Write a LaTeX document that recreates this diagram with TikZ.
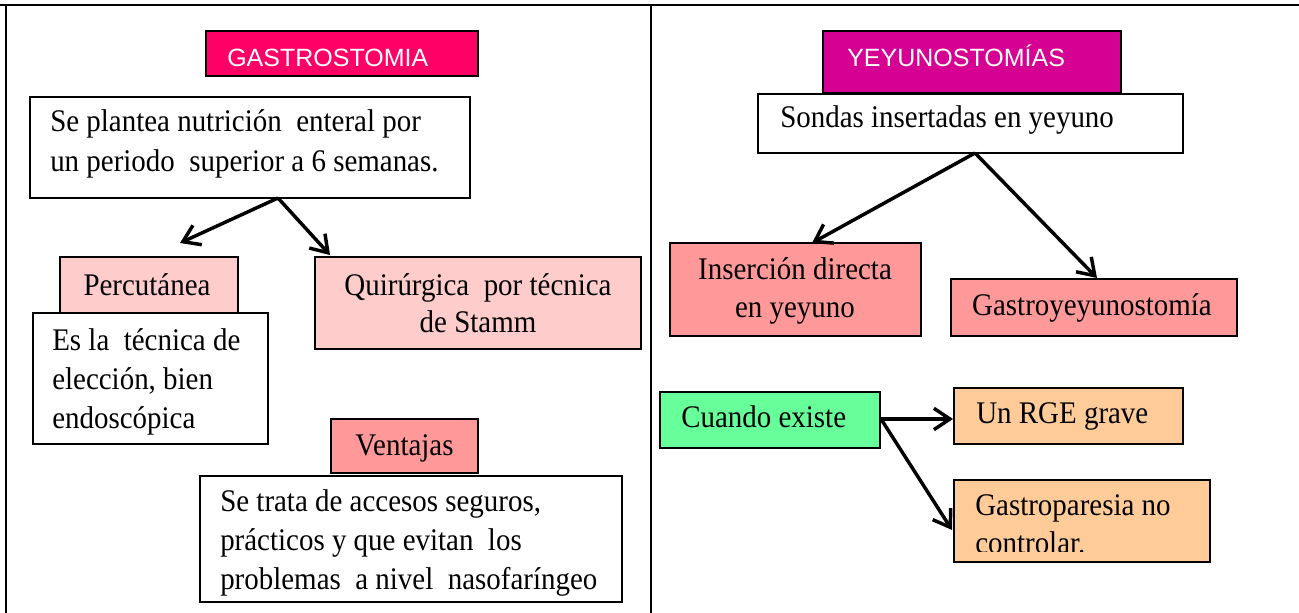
\documentclass[tikz,border=0pt]{standalone}
\usepackage{fontspec}
\setmainfont[FakeStretch=0.92]{Liberation Serif}
\newfontfamily\arialf{Liberation Sans}
\usetikzlibrary{arrows.meta}
\definecolor{gastroc}{HTML}{FF0066}
\definecolor{yeyuc}{HTML}{D60093}
\definecolor{lightpink}{HTML}{FFCCCC}
\definecolor{midpink}{HTML}{FF9999}
\definecolor{greenc}{HTML}{66FF99}
\definecolor{peach}{HTML}{FFCC99}
\begin{document}
\begin{tikzpicture}[x=0.75pt,y=-0.75pt,
  tbl/.style={line width=1.5pt},
  bx/.style 2 args={draw, line width=1.1pt, rectangle, inner sep=0pt,
    minimum width=#1*0.75pt, minimum height=#2*0.75pt},
  txt/.style={inner sep=0pt, font=\fontsize{23.6}{29.25}\selectfont},
  ttl/.style={inner sep=0pt, text=white, font=\arialf\fontsize{18.75}{22}\selectfont},
  arr/.style={line width=2.6pt, -{Straight Barb[length=12pt,width=16pt]}}]
\useasboundingbox (0,0) rectangle (1299,613);
% table lines
\draw[tbl] (0,5) -- (1299,5);
\draw[tbl] (6,5) -- (6,613);
\draw[tbl] (651,5) -- (651,613);

% ---------- left column ----------
\node[bx={272}{45}, fill=gastroc] (gastro) at (342,53.5) {};
\node[ttl, anchor=base west] (gastroT) at (227,67) {GASTROSTOMIA};

\node[bx={440}{101}, fill=white] (plantea) at (250,147.5) {};
\node[txt, anchor=base west, align=left, font=\fontsize{23.6}{30.75}\selectfont] (planteaT) at (50,172)
  {Se plantea nutrición\ \ enteral por\\un periodo\ \ superior a 6 semanas.};

\node[bx={178}{56}, fill=lightpink] (percu) at (149,285) {};
\node[txt, anchor=base] (percuT) at (147,295) {Percutánea};

\node[bx={326}{92}, fill=lightpink] (quir) at (478,303) {};
\node[txt, anchor=base, align=center, font=\fontsize{23.6}{27.75}\selectfont] (quirT) at (478,332)
  {Quirúrgica\ \ por técnica\\de Stamm};

\node[bx={235}{131}, fill=white] (esla) at (150.5,378.5) {};
\node[txt, anchor=base west, align=left] (eslaT) at (52,428)
  {Es la\ \ técnica de\\elección, bien\\endoscópica};

\node[bx={147}{54}, fill=midpink] (vent) at (404.5,446) {};
\node[txt, anchor=base] (ventT) at (404.5,455) {Ventajas};

\node[bx={422}{126}, fill=white] (trata) at (411,539) {};
\node[txt, anchor=base west, align=left, font=\fontsize{23.6}{28.9}\selectfont] (trataT) at (220,589)
  {Se trata de accesos seguros,\\prácticos y que evitan\ \ los\\problemas\ \ a nivel\ \ nasofaríngeo};

\coordinate (pS) at (278,198);
\coordinate (pL) at (180,243);
\coordinate (pR) at (330,255);
\draw[arr] (pS) -- (pL);
\draw[arr] (pS) -- (pR);

% ---------- right column ----------
\node[bx={298}{62}, fill=yeyuc] (yeyu) at (972,62) {};
\node[ttl, anchor=base west] (yeyuT) at (847,67) {YEYUNOSTOMÍAS};

\node[bx={425}{59}, fill=white] (sondas) at (970.5,123.5) {};
\node[txt, anchor=base west] (sondasT) at (780,128) {Sondas insertadas en yeyuno};

\node[bx={251}{93}, fill=midpink] (inser) at (795.5,289.5) {};
\node[txt, anchor=base, align=center, font=\fontsize{23.6}{28.5}\selectfont] (inserT) at (795,317)
  {Inserción directa\\en yeyuno};

\node[bx={286}{57}, fill=midpink] (gy) at (1094,307.5) {};
\node[txt, anchor=base] (gyT) at (1092,315) {Gastroyeyunostomía};

\node[bx={220}{56}, fill=greenc] (cuando) at (770,420) {};
\node[txt, anchor=base west] (cuandoT) at (681,427) {Cuando existe};

\node[bx={229}{56}, fill=peach] (rge) at (1068.5,416) {};
\node[txt, anchor=base west] (rgeT) at (976,423) {Un RGE grave};

\node[bx={256}{82}, fill=peach] (gp) at (1082,521) {};
\begin{scope}
  \clip (954,480) rectangle (1210,551);
  \node[txt, anchor=base west, align=left, font=\fontsize{23.6}{28.5}\selectfont] (gpT) at (975,553)
    {Gastroparesia no\\controlar.};
\end{scope}

\coordinate (sS) at (975,153);
\coordinate (sL) at (812,243);
\coordinate (sR) at (1097,278);
\draw[arr] (sS) -- (sL);
\draw[arr] (sS) -- (sR);

\coordinate (cS) at (881,419);
\coordinate (cR) at (953,419);
\coordinate (cD) at (952,530);
\draw[arr] (cS) -- (cR);
\draw[arr] (cS) -- (cD);
\end{tikzpicture}
\end{document}
